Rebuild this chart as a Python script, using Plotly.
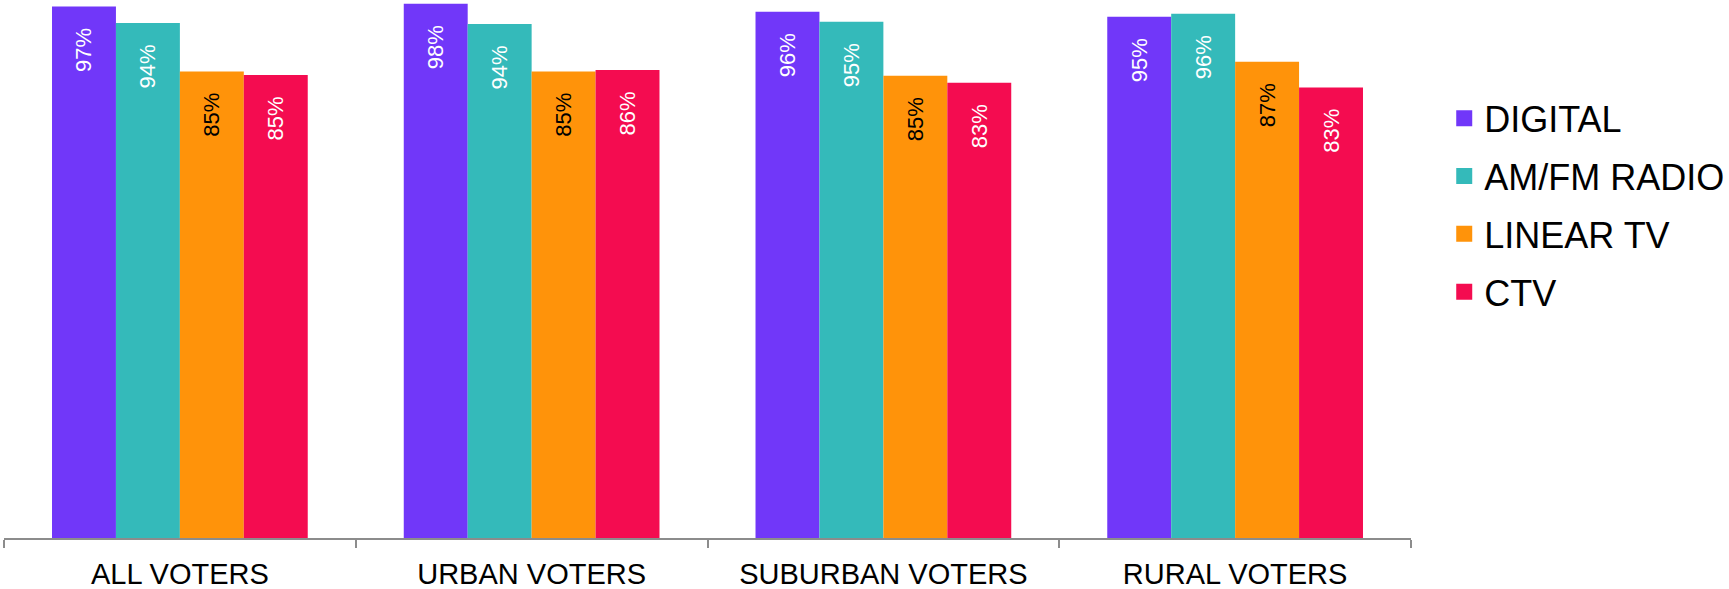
import plotly.graph_objects as go

categories = ["ALL VOTERS", "URBAN VOTERS", "SUBURBAN VOTERS", "RURAL VOTERS"]
series_names = ["DIGITAL", "AM/FM RADIO", "LINEAR TV", "CTV"]
digital = [97.36, 97.86, 96.39, 95.48]
amfm = [94.32, 94.14, 94.56, 96.03]
linear_tv = [85.46, 85.46, 84.67, 87.23]
ctv = [84.80, 85.71, 83.39, 82.53]

series_values = [digital, amfm, linear_tv, ctv]
colors = ["#7137F9", "#34BABA", "#FF930A", "#F40C50"]
text_colors = ["white", "white", "black", "white"]

FONT = "Liberation Sans, Arial, sans-serif"
fig = go.Figure()

for name, vals, col, tcol in zip(series_names, series_values, colors, text_colors):
    fig.add_trace(go.Bar(
        x=categories, y=vals, name=name,
        marker=dict(color=col, line=dict(width=0)),
        texttemplate="%{y:.0f}%" + "\u00a0\u00a0\u00a0",
        textposition="inside", insidetextanchor="end", textangle=-90,
        insidetextfont=dict(family=FONT, size=22, color=tcol),
        showlegend=False, hoverinfo="skip",
    ))

for name, col in zip(series_names, colors):
    fig.add_trace(go.Scatter(
        x=[None], y=[None], mode="markers", name=name,
        marker=dict(symbol="square", size=16, color=col),
        legendgroup=name, showlegend=True,
    ))

fig.update_layout(
    width=1729, height=589,
    margin=dict(l=3.5, r=318, t=0, b=51, autoexpand=False),
    paper_bgcolor="white", plot_bgcolor="white",
    barmode="group", bargap=0.273, bargroupgap=0,
    font=dict(family=FONT, color="black"),
    legend=dict(
        xref="container", yref="container",
        x=0.8353, xanchor="left", y=0.850, yanchor="top",
        font=dict(family=FONT, size=36, color="black"),
        tracegroupgap=8, itemsizing="trace",
        bgcolor="rgba(0,0,0,0)",
    ),
    xaxis=dict(
        type="category",
        showline=True, linecolor="#8c8c8c", linewidth=1.5,
        ticks="outside", tickson="boundaries", ticklen=8,
        tickcolor="#8c8c8c", tickwidth=1.5,
        tickfont=dict(family=FONT, size=29, color="black"),
        ticklabelstandoff=9,
        showgrid=False, zeroline=False,
    ),
    yaxis=dict(
        range=[0, 98.55], visible=False, showgrid=False, zeroline=False,
    ),
)

fig.write_html("out.html")
